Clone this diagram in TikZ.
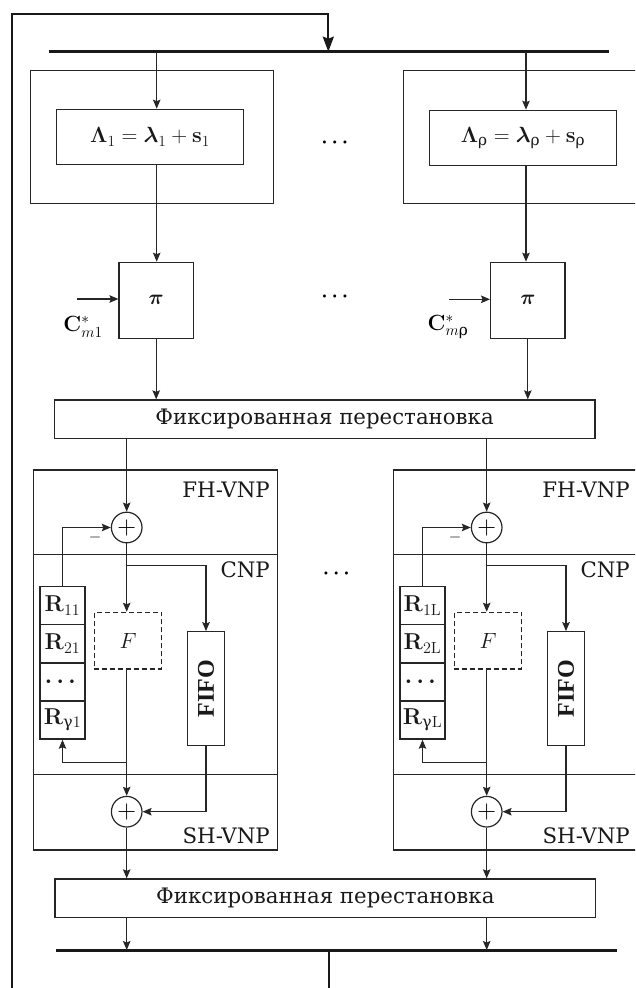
\RequirePackage{fix-cm}
\documentclass[tikz,border=0pt]{standalone}
\usepackage{amsmath}
\usepackage{bm}
\usepackage[no-math]{fontspec}
\setmainfont{DejaVu Serif}
\newfontfamily\libser{Liberation Serif}
\usetikzlibrary{arrows.meta,calc}

\tikzset{
  ln/.style={line width=1.2pt, draw=black!85},
  arr/.style={ln, -{Stealth[length=9pt,width=7.5pt,inset=1.5pt]}},
  box/.style={draw=black!85, line width=1.2pt, inner sep=0pt, text=black!90},
  lbl/.style={font=\fontsize{21.3}{24}\selectfont, inner sep=0pt, text=black!90},
  sumc/.style={circle, draw=black!85, line width=1.2pt, minimum size=30.6pt, inner sep=0pt, font=\fontsize{26}{28}\selectfont},
  bus/.style={line width=3pt, draw=black!90},
  fb/.style={line width=2.2pt, draw=black!90},
  rcell/.style={box, line width=1.6pt, minimum width=45pt, minimum height=38.1pt, font=\fontsize{23}{25}\selectfont},
  dotsn/.style={inner sep=0pt, font=\fontsize{20}{22}\selectfont},
}

\newcommand\vnpcol[6]{%
  \begin{scope}[xshift=#1pt]
    \node[box, minimum width=244pt, minimum height=380pt] (#2frame) at (155.3,660) {};
    \draw[ln] (#2frame.west |- 0,554.5) -- (#2frame.east |- 0,554.5);
    \draw[ln] (#2frame.west |- 0,774.7) -- (#2frame.east |- 0,774.7);
    \node[lbl, anchor=east] (#2fh) at (270,489.5) {FH-VNP};
    \node[lbl, anchor=east] (#2cnp) at (270,570) {CNP};
    \node[lbl, anchor=east] (#2sh) at (270,836) {SH-VNP};
    \node[sumc] (#2cA) at (126.7,527.5) {$+$};
    \node[sumc] (#2cB) at (126.7,811.7) {$+$};
    \node[rcell] (#2R1) at (62.5,605.6) {#3};
    \node[rcell] (#2R2) at (62.5,643.7) {#4};
    \node[rcell] (#2R3) at (62.5,681.8) {#5};
    \node[rcell] (#2R4) at (62.5,719.9) {#6};
    \node[box, dashed, dash pattern=on 5pt off 3pt, minimum width=67.4pt, minimum height=56.7pt,
          font=\fontsize{22}{24}\selectfont] (#2F) at (128,640.7) {$F$};
    \node[box, minimum width=37pt, minimum height=114pt] (#2FIFO) at (206,688.7)
          {\rotatebox{90}{\fontsize{24}{26}\selectfont\libser\bfseries FIFO}};
    \node[inner sep=0pt, font=\fontsize{16}{16}\selectfont] (#2minus) at (95,537) {$-$};
    \coordinate (#2brA) at (126.7,565.7);
    \coordinate (#2brB) at (126.7,762.5);
    \draw[arr] (#2cA.north |- perm1.south) -- (#2cA.north);
    \draw[arr] (#2R1.north) |- (#2cA.west);
    \draw[arr] (#2cA.south) -- (#2cA.south |- #2F.north);
    \draw[arr] (#2brA) -| (#2FIFO.north);
    \draw[arr] (#2cA.south |- #2F.south) -- (#2cB.north);
    \draw[arr] (#2brB) -| (#2R4.south);
    \draw[arr] (#2FIFO.south) |- (#2cB.east);
    \draw[arr] (#2cB.south) -- (#2cB.south |- perm2.north);
    \draw[arr] (#2cB.south |- perm2.south) -- (#2cB.south |- busB);
  \end{scope}}

\begin{document}
\begin{tikzpicture}[x=1pt,y=-1pt]
  \useasboundingbox (0,0) rectangle (635,988);
  \clip (0,0) rectangle (635,988);

  % top bus and feedback
  \coordinate (busTL) at (49,51.7);
  \coordinate (busTR) at (609.3,51.7);
  \coordinate (busIn) at (328.3,51.7);
  \coordinate (fb0) at (12.3,998);
  \coordinate (fb1) at (12.3,14);
  \draw[bus] (busTL) -- (busTR);
  \draw[fb, -{Stealth[length=15pt,width=11pt,inset=2pt]}] (fb0) -- (fb1) -| (busIn);

  % upper blocks
  \node[box, minimum width=242.6pt, minimum height=132.6pt] (outA) at (152,137) {};
  \node[box, minimum width=242.6pt, minimum height=132.6pt] (outB) at (524.6,137) {};
  \node[box, minimum width=186.6pt, minimum height=55.4pt, font=\fontsize{22}{24}\selectfont] (L1) at (150,137)
       {$\mathbf{\Lambda}_1=\bm{\lambda}_1+\mathbf{s}_1$};
  \node[box, minimum width=187.4pt, minimum height=55.4pt, font=\fontsize{22}{24}\selectfont] (L2) at (523,138)
       {$\mathbf{\Lambda}_{\text{ρ}}=\bm{\lambda}_{\text{ρ}}+\mathbf{s}_{\text{ρ}}$};
  \coordinate (b1) at (156.7,51.7);
  \coordinate (b2) at (526,51.7);
  \draw[arr] (b1) -- (b1 |- L1.north);
  \draw[arr] (b2) -- (b2 |- L2.north);

  \node[box, minimum width=74.3pt, minimum height=76pt, font=\fontsize{21}{22}\selectfont] (P1) at (156.2,300.3) {$\bm{\pi}$};
  \node[box, minimum width=74.3pt, minimum height=76pt, font=\fontsize{21}{22}\selectfont] (P2) at (527.8,300.3) {$\bm{\pi}$};
  \draw[arr] (b1 |- L1.south) -- (b1 |- P1.north);
  \draw[arr] (b2 |- L2.south) -- (b2 |- P2.north);

  \coordinate (c1) at (76.7,299);
  \coordinate (c2) at (449,299.3);
  \draw[arr] (c1) -- (c1 -| P1.west);
  \draw[arr] (c2) -- (c2 -| P2.west);
  \node[inner sep=0pt, font=\fontsize{22}{24}\selectfont] (C1) at (83,327) {$\mathbf{C}^{*}_{m1}$};
  \node[inner sep=0pt, font=\fontsize{22}{24}\selectfont] (C2) at (448,327) {$\mathbf{C}^{*}_{m\text{ρ}}$};

  \node[dotsn] (d1) at (336.7,142.7) {$\boldsymbol{\cdots}$};
  \node[dotsn] (d2) at (336.7,296.7) {$\boldsymbol{\cdots}$};
  \node[dotsn] (d3) at (338.3,574) {$\boldsymbol{\cdots}$};

  % permutations
  \node[box, lbl, minimum width=540.7pt, minimum height=38.7pt] (perm1) at (324.6,419.3) {Фиксированная перестановка};
  \node[box, lbl, minimum width=540.7pt, minimum height=38.7pt] (perm2) at (325.3,898.3) {Фиксированная перестановка};
  \draw[arr] (P1.south) -- (P1.south |- perm1.north);
  \draw[arr] (P2.south) -- (P2.south |- perm1.north);

  % bottom bus
  \coordinate (busBL) at (56,950);
  \coordinate (busBR) at (616.7,950);
  \coordinate (busB) at (329,950);
  \coordinate (outEnd) at (329,998);
  \draw[bus] (busBL) -- (busBR);
  \draw[fb] (busB) -- (outEnd);

  % columns
  \vnpcol{0}{a}{$\mathbf{R}_{11}$}{$\mathbf{R}_{21}$}{$\boldsymbol{\cdots}$}{$\mathbf{R}_{\text{γ}1}$}
  \vnpcol{360}{b}{$\mathbf{R}_{1\mathrm{L}}$}{$\mathbf{R}_{2\mathrm{L}}$}{$\boldsymbol{\cdots}$}{$\mathbf{R}_{\text{γ}\mathrm{L}}$}
\end{tikzpicture}
\end{document}
